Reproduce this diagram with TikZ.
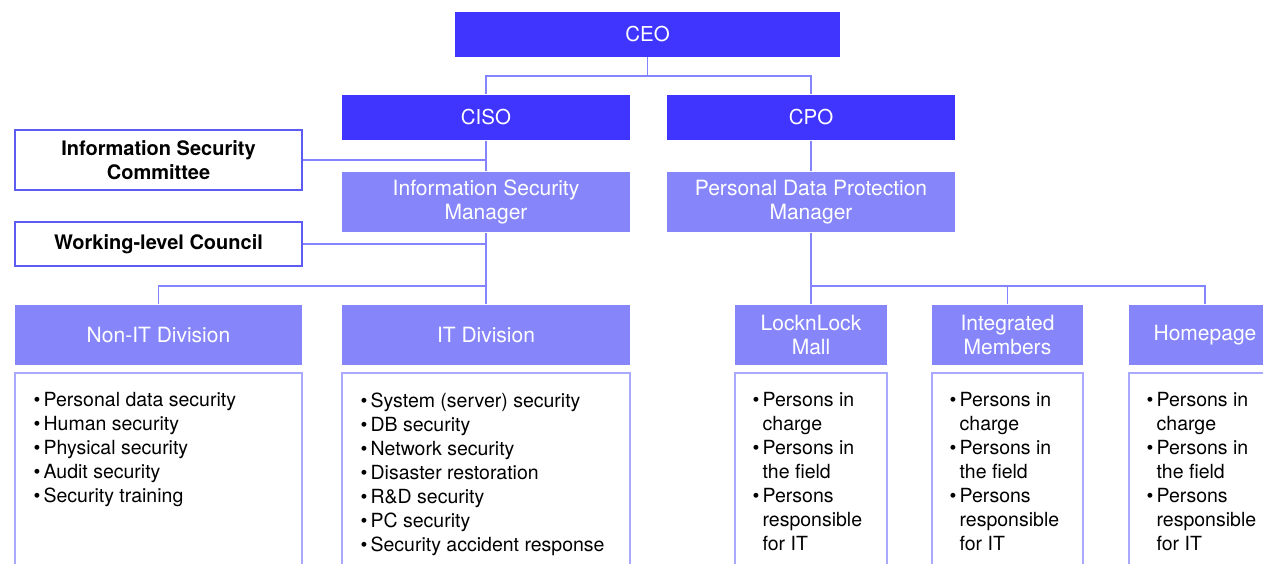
\documentclass[tikz,border=0pt]{standalone}
\usepackage{fontspec}
\setmainfont{TeX Gyre Heros}
\definecolor{chiefblue}{HTML}{4034FF}
\definecolor{mgrblue}{HTML}{8686FA}
\definecolor{linkblue}{HTML}{8484FF}
\definecolor{edgeblue}{HTML}{5C5CF2}
\definecolor{listedge}{HTML}{A9A9FF}
\newcommand\itm{\makebox[10pt][l]{\textbullet}}
\newcommand\cont{\hspace*{10pt}}

\begin{document}
\begin{tikzpicture}[x=1pt,y=-1pt,line width=1.3pt,
  chief/.style={fill=chiefblue,text=white,inner sep=0pt,minimum width=288pt,minimum height=45pt,
    font=\fontsize{20.5}{24}\selectfont},
  mgr/.style={fill=mgrblue,text=white,inner sep=0pt,minimum width=288pt,minimum height=60pt,
    align=center,font=\fontsize{21}{24}\selectfont},
  council/.style={draw=edgeblue,fill=white,inner sep=0pt,minimum width=287pt,align=center,
    font=\bfseries\fontsize{20}{24}\selectfont},
  listbox/.style={draw=listedge,line width=1.1pt},
  listtext/.style={anchor=north west,inner sep=0pt,align=left,font=\fontsize{19.5}{24}\selectfont},
  link/.style={draw=linkblue}]
  \useasboundingbox (0,0) rectangle (1263,563);
  \clip (0,0) rectangle (1263,563);

  % 최고 책임자
  \node[chief,minimum width=385pt] (ceo) at (647.5,34) {CEO};
  \node[chief] (ciso) at (486,117.5) {CISO};
  \node[chief] (cpo) at (811,117.5) {CPO};

  % 관리자 및 위원회
  \node[mgr] (ism) at (486,202) {Information Security\\Manager};
  \node[mgr] (pdpm) at (811,202) {Personal Data Protection\\Manager};
  \node[council,minimum height=60pt] (isc) at (158.5,160) {Information Security\\Committee};
  \node[council,minimum height=44pt] (wlc) at (158.5,244) {Working-level Council};

  % 부문
  \node[mgr,minimum width=287pt] (nonit) at (158.5,335) {Non-IT Division};
  \node[mgr] (itdiv) at (486,335) {IT Division};
  \node[mgr,minimum width=152pt] (mall) at (811,335) {LocknLock\\Mall};
  \node[mgr,minimum width=151pt] (members) at (1007.5,335) {Integrated\\Members};
  \node[mgr,minimum width=152pt] (homepage) at (1205,335) {Homepage};

  % 연결선
  \coordinate (topbus) at (647.5,76);
  \coordinate (leftbus) at (486,286);
  \coordinate (rightbus) at (811,286);
  \draw[link] (ceo.south) -- (topbus);
  \draw[link] (topbus) -| (ciso.north);
  \draw[link] (topbus) -| (cpo.north);
  \draw[link] (ciso.south) -- (ism.north);
  \draw[link] (cpo.south) -- (pdpm.north);
  \draw[link] (isc.east) -- (isc.east -| ciso.south);
  \draw[link] (ism.south) -- (itdiv.north);
  \draw[link] (wlc.east) -- (wlc.east -| ism.south);
  \draw[link] (leftbus) -| (nonit.north);
  \draw[link] (pdpm.south) -- (mall.north);
  \draw[link] (rightbus) -| (members.north);
  \draw[link] (rightbus) -| (homepage.north);

  % 업무 목록 상자
  \draw[listbox] (15,373) rectangle (302,600);
  \draw[listbox] (342,373) rectangle (630,600);
  \draw[listbox] (735,373) rectangle (887,600);
  \draw[listbox] (932,373) rectangle (1083,600);
  \draw[listbox] (1129,373) rectangle (1281,600);

  \node[listtext] (nonitlist) at (33,392) {\itm Personal data security\\\itm Human security\\
    \itm Physical security\\\itm Audit security\\\itm Security training};
  \node[listtext] (itlist) at (360,392) {\itm System (server) security\\\itm DB security\\
    \itm Network security\\\itm Disaster restoration\\\itm R\&D security\\\itm PC security\\
    \itm Security accident response};
  \foreach \x/\n in {752/malllist,949/memberslist,1146/homelist}
    \node[listtext] (\n) at (\x,392) {\itm Persons in\\\cont charge\\\itm Persons in\\\cont the field\\
      \itm Persons\\\cont responsible\\\cont for IT};
\end{tikzpicture}
\end{document}
